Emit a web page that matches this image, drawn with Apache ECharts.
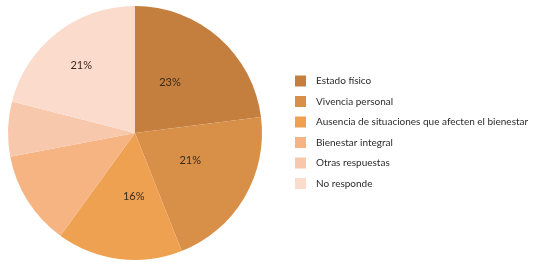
<!DOCTYPE html>
<html>
<head>
<meta charset="utf-8">
<script src="https://cdn.jsdelivr.net/npm/echarts@6/dist/echarts.min.js"></script>
<style>
  html, body { margin: 0; padding: 0; background: #fff; }
  #chart { width: 537px; height: 264px; }
</style>
</head>
<body>
<div id="chart"></div>
<script>
// categorías y porcentajes
var categories = ['Estado físico', 'Vivencia personal', 'Ausencia de situaciones que afecten el bienestar', 'Bienestar integral', 'Otras respuestas', 'No responde'];
var values = [23, 21, 16, 12, 7, 21];
// en el original solo algunas porciones llevan etiqueta
var showLabel = [true, true, true, false, false, true];
var colors = ['#c47e3e', '#d88f48', '#eea150', '#f5b482', '#f8c8ad', '#fbdbcc'];
// ajuste fino de la posición de las etiquetas (px)
var labelOffsets = [[-9, -1], [-2, -6], [7, -3], [0, 0], [0, 0], [-13, -15]];

var chartDom = document.getElementById('chart');
var myPieChart = echarts.init(chartDom);

var pieData = categories.map(function (name, i) {
    return {
        name: name,
        value: values[i],
        label: { show: showLabel[i], offset: labelOffsets[i] }
    };
});

var option = {
    animation: false,
    color: colors,
    legend: {
        orient: 'vertical',
        left: 290,
        top: 70.5,
        padding: 5,
        itemWidth: 11,
        itemHeight: 11,
        itemGap: 9.5,
        icon: 'rect',
        textStyle: {
            fontFamily: 'Lato, sans-serif',
            fontSize: 10,
            lineHeight: 11,
            color: '#2b2b2b',
            padding: [0, 0, 0, 5]
        },
        data: categories
    },
    series: [
        {
            type: 'pie',
            center: [135, 133],
            radius: [0, 127],
            startAngle: 90,
            clockwise: true,
            data: pieData,
            label: {
                position: 'inside',
                fontFamily: 'Lato, sans-serif',
                fontSize: 11,
                color: '#3a2a1a',
                formatter: function (p) {
                    return p.value + '%';
                }
            },
            labelLine: { show: false },
            itemStyle: { borderWidth: 0 },
            emphasis: { disabled: true }
        }
    ]
};
myPieChart.setOption(option);
</script>
</body>
</html>
